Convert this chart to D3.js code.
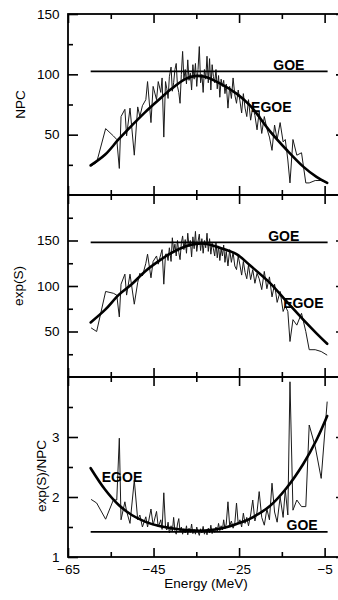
<!DOCTYPE html>
<html>
<head>
<meta charset="utf-8">
<script src="https://cdn.jsdelivr.net/npm/d3@7"></script>
<style>
  body { margin: 0; background: #fff; }
  svg { display: block; font-family: "Liberation Sans", Arial, Helvetica, sans-serif; }
</style>
</head>
<body>
<svg id="chart" width="338" height="600"></svg>
<script>
// bin energies of the fluctuating traces (MeV)
const energy = [
  -59.6, -58.3, -56.2, -54.4, -53.6, -53.0, -52.6, -51.7, -51.3, -50.5, -49.5, -48.7,
  -48.2, -47.6, -46.8, -46.4, -45.6, -45.1, -44.3, -43.9, -43.3, -43.0, -42.6, -42.2,
  -41.9, -41.6, -41.3, -40.9, -40.6, -40.3, -40.0, -39.7, -39.4, -39.1, -38.8, -38.5,
  -38.2, -37.9, -37.6, -37.3, -37.0, -36.7, -36.4, -36.1, -35.8, -35.5, -35.2, -34.9,
  -34.6, -34.3, -34.0, -33.7, -33.4, -33.1, -32.8, -32.5, -32.2, -31.9, -31.6, -31.3,
  -31.0, -30.7, -30.4, -30.1, -29.8, -29.5, -29.2, -28.9, -28.6, -28.3, -28.0,
  -27.6, -27.2, -26.8, -26.4, -26.0, -25.6, -25.2, -24.8, -24.4, -24.0, -23.6, -23.2,
  -22.8, -22.3, -21.8, -21.3, -20.8, -20.3, -19.7, -19.1, -18.5, -17.9, -17.3, -16.7,
  -16.1, -15.4, -14.7, -14.2, -13.6, -13.1,
  -12.4, -11.5, -10.4, -9.4, -8.6, -7.2, -5.8, -4.4
];
const npc = [
  24, 27, 55, 49, 46, 22, 65, 71, 49, 72, 33, 73,
  65, 74, 79, 94, 60, 90, 79, 94, 85, 97, 48, 94,
  88, 80, 98, 106, 86, 93, 104, 109, 90, 85, 76, 100,
  119, 96, 104, 92, 112, 95, 101, 87, 108, 96, 109, 90,
  104, 123, 93, 100, 85, 104, 96, 115, 93, 113, 87, 108,
  98, 93, 104, 88, 99, 81, 96, 90, 95, 84, 92,
  72, 90, 80, 97, 83, 76, 87, 78, 68, 84, 72, 65,
  79, 62, 73, 66, 54, 69, 51, 65, 55, 48, 37, 58,
  46, 60, 44, 46, 29, 10,
  46, 33, 35, 10, 10, 12, 12, 10
];
const expS = [
  54, 50, 94, 92, 90, 66, 102, 113, 90, 113, 80, 104,
  114, 111, 125, 135, 109, 127, 133, 124, 135, 140, 102, 135,
  135, 128, 142, 127, 153, 138, 146, 133, 150, 137, 129, 147,
  155, 140, 151, 136, 158, 143, 150, 132, 154, 141, 160, 138,
  149, 157, 139, 152, 136, 150, 142, 158, 138, 152, 135, 147,
  141, 133, 148, 131, 144, 128, 141, 133, 145, 126, 138,
  122, 140, 126, 137, 122, 118, 133, 123, 112, 127, 115, 108,
  123, 107, 118, 103, 114, 108, 96, 116, 97, 110, 88, 102,
  82, 94, 72, 78, 72, 39,
  63, 57, 70, 50, 30, 30, 28, 24
];
const ratio = [
  1.96, 1.90, 1.63, 1.95, 1.95, 2.98, 1.62, 1.92, 1.76, 1.56, 2.28, 1.62,
  1.70, 1.50, 1.67, 1.50, 1.80, 1.53, 1.76, 1.50, 1.62, 1.46, 2.07, 1.50,
  1.45, 1.58, 1.40, 1.52, 1.42, 1.66, 1.44, 1.38, 1.55, 1.64, 1.42, 1.50,
  1.38, 1.47, 1.40, 1.52, 1.37, 1.48, 1.41, 1.55, 1.39, 1.46, 1.38, 1.50,
  1.42, 1.36, 1.47, 1.40, 1.51, 1.38, 1.45, 1.37, 1.48, 1.40, 1.53, 1.39,
  1.46, 1.41, 1.50, 1.43, 1.56, 1.44, 1.52, 1.45, 1.62, 1.47, 1.55,
  1.92, 1.52, 1.60, 1.48, 1.56, 1.90, 1.55, 1.62, 1.50, 1.73, 1.56, 1.66,
  1.52, 1.70, 1.95, 1.60, 1.75, 2.09, 1.66, 1.53, 1.80, 1.62, 2.23, 1.75,
  1.58, 2.00, 1.66, 2.12, 1.70, 3.92,
  1.78, 1.95, 1.84, 1.84, 3.20, 2.84, 2.31, 3.59
];

// smooth EGOE curves
const egoeEnergy = [-59.7, -56.3, -53.2, -50.1, -47.0, -43.9, -40.8, -37.6, -35.5,
  -33.0, -29.5, -25.6, -22.4, -17.8, -13.9, -10.0, -6.9, -4.4];
const egoeNpc = [24.5, 33.5, 46, 57.5, 68.5, 78.5, 88, 96, 98.5,
  98, 92.5, 84, 74, 53, 37.5, 23.5, 15, 10];
const egoeExpS = [60, 74, 90, 102, 116, 127, 136.5, 143.5, 146,
  146.5, 142, 135, 122.5, 103.5, 83, 63, 48, 36.5];
const egoeRatio = [2.48, 2.12, 1.87, 1.70, 1.59, 1.52, 1.48, 1.45, 1.44,
  1.44, 1.47, 1.55, 1.64, 1.85, 2.15, 2.55, 2.95, 3.35];

// GOE constant levels
const goeEnergy = [-59.7, -4.3];
const goeNpc = 102.5;
const goeExpS = 148;
const goeRatio = 1.42;

const xMajor = [-65, -45, -25, -5];
const xMinor = [-55, -35, -15];

const svg = d3.select("#chart");
const left = 68, right = 346;
const x = d3.scaleLinear().domain([-65, 0]).range([left, right]);

const panels = [
  { top: 14, bottom: 195, domain: [0, 150], major: [50, 100, 150], minor: [25, 75, 125],
    title: "NPC", titleX: 24.5, titleV: 75,
    values: npc, egoe: egoeNpc, goe: goeNpc,
    notes: [{ t: "GOE", e: -17.0, v: 104 }, { t: "EGOE", e: -22.2, v: 69 }] },
  { top: 195, bottom: 377, domain: [0, 200], major: [50, 100, 150], minor: [25, 75, 125, 175],
    title: "exp(S)", titleX: 23, titleV: 100,
    values: expS, egoe: egoeExpS, goe: goeExpS,
    notes: [{ t: "GOE", e: -18.2, v: 149.5 }, { t: "EGOE", e: -14.7, v: 75.5 }] },
  { top: 377, bottom: 557, domain: [1, 4], major: [1, 2, 3], minor: [1.5, 2.5, 3.5],
    title: "exp(S)/NPC", titleX: 46, titleV: 2.35,
    values: ratio, egoe: egoeRatio, goe: goeRatio,
    notes: [{ t: "EGOE", e: -57.1, v: 2.255 }, { t: "GOE", e: -13.9, v: 1.445 }] }
];

panels.forEach((p, i) => {
  const y = d3.scaleLinear().domain(p.domain).range([p.bottom, p.top]);
  const g = svg.append("g");

  // ticks on all four sides, pointing inward
  const addAxis = (axis, tx, ty, size, values, labels) => {
    const a = g.append("g")
      .attr("transform", `translate(${tx},${ty})`)
      .call(axis.tickValues(values).tickSize(-size)
        .tickPadding(8.5)
        .tickFormat(labels ? d3.format("~g") : ""));
    a.select(".domain").remove();
    a.selectAll("line").attr("stroke", "#000").attr("stroke-width", 1.6);
    a.selectAll("text").attr("font-size", 13.5).attr("fill", "#000").attr("font-family", null);
    return a;
  };

  addAxis(d3.axisLeft(y), left, 0, 10, p.major, true);
  addAxis(d3.axisLeft(y), left, 0, 5, p.minor, false);
  addAxis(d3.axisRight(y), right, 0, 10, p.major, false);
  addAxis(d3.axisRight(y), right, 0, 5, p.minor, false);

  addAxis(d3.axisTop(x), 0, p.top, 9, xMajor, false);
  addAxis(d3.axisTop(x), 0, p.top, 5, xMinor, false);
  const xb = addAxis(d3.axisBottom(x), 0, p.bottom, 9, xMajor, i === 2);
  addAxis(d3.axisBottom(x), 0, p.bottom, 5, xMinor, false);
  xb.selectAll("text").attr("y", 7.5);

  // frame
  g.append("rect")
    .attr("x", left).attr("y", p.top)
    .attr("width", right - left).attr("height", p.bottom - p.top)
    .attr("fill", "none").attr("stroke", "#000").attr("stroke-width", 1.8);

  // fluctuating trace
  const pts = energy.map((e, k) => [e, p.values[k]]);
  g.append("path")
    .datum(pts)
    .attr("fill", "none")
    .attr("stroke", "#1a1a1a")
    .attr("stroke-width", 1)
    .attr("stroke-linejoin", "round")
    .attr("d", d3.line().x(d => x(d[0])).y(d => y(d[1])));

  // GOE level
  g.append("path")
    .datum(goeEnergy.map(e => [e, p.goe]))
    .attr("fill", "none").attr("stroke", "#000").attr("stroke-width", 1.8)
    .attr("d", d3.line().x(d => x(d[0])).y(d => y(d[1])));

  // EGOE smooth curve
  g.append("path")
    .datum(egoeEnergy.map((e, k) => [e, p.egoe[k]]))
    .attr("fill", "none").attr("stroke", "#000").attr("stroke-width", 2.6)
    .attr("stroke-linecap", "round")
    .attr("d", d3.line().curve(d3.curveCatmullRom.alpha(0.5))
      .x(d => x(d[0])).y(d => y(d[1])));

  // annotations
  p.notes.forEach(n => {
    g.append("text")
      .attr("x", x(n.e)).attr("y", y(n.v))
      .attr("font-size", 14).attr("font-weight", "bold")
      .text(n.t);
  });

  // y title
  g.append("text")
    .attr("transform", `translate(${p.titleX},${y(p.titleV)}) rotate(-90)`)
    .attr("text-anchor", "middle")
    .attr("font-size", 13.5)
    .text(p.title);
});

svg.append("text")
  .attr("x", 206).attr("y", 588)
  .attr("text-anchor", "middle")
  .attr("font-size", 13.5)
  .text("Energy (MeV)");
</script>
</body>
</html>
